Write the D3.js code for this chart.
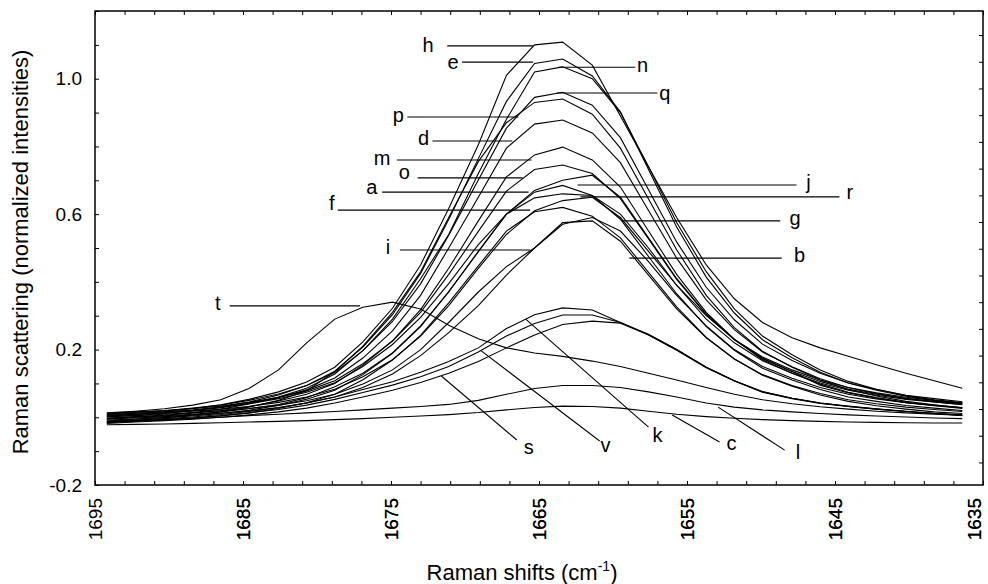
<!DOCTYPE html>
<html>
<head>
<meta charset="utf-8">
<script src="https://cdn.jsdelivr.net/npm/d3@7"></script>
<style>
  body { margin: 0; background: #fff; }
  svg { display: block; font-family: Arial, "Liberation Sans", sans-serif; }
  .tick text { fill: #000; }
</style>
</head>
<body>
<div id="main"></div>
<script>
// Raman shift of every sample point (cm-1), shared by all spectra
const shifts = [1694.2, 1692.3, 1690.3, 1688.4, 1686.5, 1684.6, 1682.6, 1680.7, 1678.8, 1676.9,
  1674.9, 1673.0, 1671.1, 1669.1, 1667.2, 1665.3, 1663.4, 1661.4, 1659.5, 1657.6,
  1655.7, 1653.7, 1651.8, 1649.9, 1647.9, 1646.0, 1644.1, 1642.2, 1640.2, 1638.3, 1636.4];

// normalized intensities, one array per sample
const h = [0.006,0.012,0.017,0.026,0.037,0.053,0.075,0.104,0.148,0.223,0.322,0.45,0.617,0.805,1.01,1.10,1.108,1.04,0.89,0.74,0.59,0.45,0.35,0.28,0.235,0.205,0.18,0.155,0.13,0.108,0.086];
const e = [0.001,0.006,0.011,0.02,0.03,0.045,0.066,0.094,0.136,0.207,0.303,0.425,0.584,0.764,0.933,1.045,1.058,1.008,0.902,0.732,0.562,0.414,0.308,0.229,0.176,0.133,0.101,0.08,0.062,0.05,0.041];
const n = [-0.005,0.001,0.006,0.014,0.024,0.039,0.06,0.086,0.128,0.197,0.29,0.409,0.54,0.72,0.88,1.02,1.035,1.0,0.9,0.74,0.575,0.43,0.32,0.24,0.185,0.14,0.106,0.083,0.064,0.052,0.043];
const q = [0.01,0.014,0.019,0.027,0.036,0.05,0.069,0.094,0.132,0.197,0.283,0.394,0.538,0.701,0.854,0.945,0.96,0.922,0.826,0.672,0.518,0.384,0.288,0.216,0.168,0.13,0.101,0.082,0.065,0.055,0.046];
const p = [-0.011,-0.006,-0.001,0.006,0.016,0.03,0.05,0.078,0.135,0.21,0.31,0.43,0.59,0.755,0.87,0.93,0.94,0.895,0.795,0.645,0.495,0.36,0.265,0.195,0.148,0.11,0.082,0.063,0.047,0.037,0.028];
const d = [0.004,0.008,0.013,0.02,0.028,0.041,0.058,0.081,0.116,0.175,0.255,0.36,0.5,0.65,0.795,0.866,0.878,0.84,0.752,0.611,0.47,0.347,0.259,0.193,0.149,0.114,0.087,0.07,0.055,0.045,0.037];
const m = [-0.002,0.002,0.006,0.012,0.02,0.032,0.048,0.068,0.1,0.154,0.226,0.318,0.44,0.58,0.71,0.775,0.798,0.76,0.68,0.55,0.422,0.31,0.23,0.17,0.13,0.098,0.074,0.058,0.044,0.036,0.028];
const o = [0.012,0.016,0.02,0.026,0.033,0.044,0.059,0.078,0.108,0.158,0.225,0.31,0.422,0.549,0.668,0.732,0.745,0.72,0.646,0.527,0.407,0.303,0.229,0.173,0.135,0.106,0.083,0.068,0.056,0.047,0.041];
const j = [-0.004,0.0,0.004,0.009,0.016,0.025,0.038,0.058,0.09,0.13,0.19,0.27,0.37,0.49,0.6,0.67,0.70,0.715,0.65,0.53,0.41,0.305,0.23,0.175,0.135,0.095,0.072,0.056,0.043,0.034,0.026];
const a = [-0.008,-0.005,-0.001,0.004,0.011,0.021,0.035,0.053,0.08,0.126,0.189,0.268,0.371,0.489,0.6,0.665,0.685,0.655,0.585,0.475,0.365,0.268,0.198,0.145,0.11,0.082,0.06,0.047,0.035,0.027,0.02];
const r = [0.008,0.012,0.016,0.022,0.03,0.04,0.055,0.074,0.102,0.15,0.215,0.295,0.395,0.51,0.6,0.648,0.66,0.655,0.6,0.5,0.39,0.29,0.22,0.167,0.13,0.101,0.08,0.065,0.053,0.045,0.038];
const f = [-0.014,-0.01,-0.007,-0.002,0.004,0.013,0.026,0.043,0.068,0.111,0.169,0.242,0.338,0.447,0.55,0.607,0.62,0.594,0.53,0.428,0.326,0.236,0.172,0.124,0.092,0.066,0.047,0.034,0.024,0.016,0.011];
const g = [0.005,0.009,0.013,0.018,0.024,0.032,0.044,0.06,0.083,0.12,0.17,0.24,0.33,0.44,0.54,0.61,0.64,0.65,0.59,0.49,0.39,0.3,0.23,0.178,0.14,0.11,0.088,0.072,0.059,0.05,0.043];
const i = [0.002,0.005,0.009,0.014,0.019,0.026,0.036,0.049,0.068,0.098,0.14,0.2,0.28,0.37,0.445,0.5,0.57,0.59,0.55,0.46,0.36,0.27,0.2,0.15,0.115,0.088,0.068,0.054,0.043,0.035,0.029];
const b = [-0.005,-0.002,0.002,0.007,0.012,0.019,0.029,0.042,0.06,0.088,0.128,0.182,0.25,0.33,0.42,0.5,0.575,0.58,0.52,0.42,0.32,0.235,0.172,0.126,0.094,0.07,0.052,0.04,0.03,0.023,0.017];
const k = [-0.012,-0.008,-0.004,0.001,0.008,0.017,0.028,0.042,0.06,0.082,0.105,0.133,0.165,0.205,0.262,0.303,0.323,0.317,0.28,0.245,0.2,0.148,0.108,0.075,0.056,0.042,0.033,0.025,0.018,0.012,0.007];
const v = [-0.015,-0.011,-0.007,-0.002,0.005,0.013,0.023,0.036,0.053,0.073,0.095,0.12,0.15,0.193,0.24,0.277,0.302,0.302,0.28,0.243,0.198,0.146,0.107,0.074,0.055,0.041,0.032,0.024,0.017,0.011,0.006];
const s = [-0.018,-0.014,-0.01,-0.006,0.0,0.007,0.016,0.027,0.042,0.06,0.08,0.103,0.13,0.165,0.205,0.243,0.274,0.284,0.278,0.244,0.2,0.148,0.108,0.076,0.056,0.042,0.032,0.024,0.017,0.011,0.005];
const l = [-0.015,-0.012,-0.008,-0.004,0.0,0.005,0.009,0.013,0.017,0.022,0.027,0.032,0.038,0.05,0.068,0.085,0.094,0.094,0.088,0.075,0.06,0.042,0.03,0.022,0.016,0.011,0.007,0.004,0.001,-0.002,-0.004];
const c = [-0.022,-0.021,-0.02,-0.018,-0.016,-0.014,-0.012,-0.01,-0.007,-0.004,0.0,0.004,0.008,0.014,0.022,0.029,0.033,0.032,0.027,0.018,0.009,0.002,-0.003,-0.007,-0.01,-0.012,-0.014,-0.015,-0.016,-0.017,-0.017];
const t = [0.013,0.018,0.025,0.036,0.052,0.085,0.14,0.22,0.29,0.325,0.34,0.32,0.272,0.232,0.205,0.19,0.18,0.166,0.15,0.13,0.11,0.088,0.068,0.052,0.04,0.031,0.024,0.018,0.013,0.009,0.006];

const series = { a, b, c, d, e, f, g, h, i, j, k, l, m, n, o, p, q, r, s, t, v };

// curve labels: text position and leader line, in data units (shift, intensity)
const labels = [
  { id: 'h', tx: 1672.5, ty: 1.099, x1: 1671.2, y1: 1.097, x2: 1665.4, y2: 1.097 },
  { id: 'e', tx: 1670.8, ty: 1.049, x1: 1670.2, y1: 1.049, x2: 1665.4, y2: 1.049 },
  { id: 'n', tx: 1658.0, ty: 1.040, x1: 1663.7, y1: 1.034, x2: 1658.5, y2: 1.034 },
  { id: 'q', tx: 1656.5, ty: 0.958, x1: 1663.8, y1: 0.958, x2: 1657.0, y2: 0.958 },
  { id: 'p', tx: 1674.5, ty: 0.893, x1: 1673.9, y1: 0.887, x2: 1666.4, y2: 0.887 },
  { id: 'd', tx: 1672.8, ty: 0.825, x1: 1672.2, y1: 0.816, x2: 1666.8, y2: 0.816 },
  { id: 'm', tx: 1675.6, ty: 0.766, x1: 1674.6, y1: 0.760, x2: 1665.5, y2: 0.760 },
  { id: 'o', tx: 1674.1, ty: 0.724, x1: 1673.2, y1: 0.707, x2: 1666.1, y2: 0.707 },
  { id: 'a', tx: 1676.3, ty: 0.680, x1: 1675.6, y1: 0.665, x2: 1665.7, y2: 0.665 },
  { id: 'f', tx: 1679.0, ty: 0.633, x1: 1678.6, y1: 0.612, x2: 1665.6, y2: 0.612 },
  { id: 'i', tx: 1675.2, ty: 0.503, x1: 1674.4, y1: 0.494, x2: 1665.6, y2: 0.494 },
  { id: 'j', tx: 1646.8, ty: 0.695, x1: 1662.4, y1: 0.686, x2: 1647.6, y2: 0.686 },
  { id: 'r', tx: 1644.0, ty: 0.665, x1: 1662.2, y1: 0.651, x2: 1644.7, y2: 0.651 },
  { id: 'g', tx: 1647.7, ty: 0.589, x1: 1659.4, y1: 0.580, x2: 1648.7, y2: 0.580 },
  { id: 'b', tx: 1647.4, ty: 0.479, x1: 1658.9, y1: 0.470, x2: 1648.6, y2: 0.470 },
  { id: 't', tx: 1686.7, ty: 0.338, x1: 1685.9, y1: 0.329, x2: 1677.1, y2: 0.329 },
  { id: 's', tx: 1665.7, ty: -0.088, x1: 1666.5, y1: -0.067, x2: 1671.6, y2: 0.122 },
  { id: 'v', tx: 1660.5, ty: -0.082, x1: 1660.9, y1: -0.070, x2: 1668.9, y2: 0.196 },
  { id: 'k', tx: 1657.0, ty: -0.052, x1: 1657.6, y1: -0.029, x2: 1665.9, y2: 0.290 },
  { id: 'c', tx: 1652.0, ty: -0.076, x1: 1652.8, y1: -0.073, x2: 1656.0, y2: 0.007 },
  { id: 'l', tx: 1647.5, ty: -0.103, x1: 1648.4, y1: -0.097, x2: 1652.9, y2: 0.030 }
];

const xLabelTicks = [1695, 1685, 1675, 1665, 1655, 1645, 1635];
const yLabelTicks = [-0.2, 0.2, 0.6, 1.0];

const width = 988, height = 584;
const margin = { top: 11, right: 5, bottom: 99, left: 95 };

const svg = d3.select('#main').append('svg')
  .attr('width', width)
  .attr('height', height);

const xScale = d3.scaleLinear().domain([1695, 1635]).range([margin.left, width - margin.right]);
const yScale = d3.scaleLinear().domain([-0.2, 1.2]).range([height - margin.bottom, margin.top]);

// frame
svg.append('rect')
  .attr('x', margin.left).attr('y', margin.top)
  .attr('width', width - margin.right - margin.left)
  .attr('height', height - margin.bottom - margin.top)
  .attr('fill', 'none').attr('stroke', '#000').attr('stroke-width', 1.5);

const fmtY = dv => yLabelTicks.some(lv => Math.abs(lv - dv) < 1e-6) ? dv.toFixed(1) : '';
const fmtX = dv => xLabelTicks.includes(Math.round(dv)) ? Math.round(dv) : '';

// left axis: ticks every 0.1, labels every 0.4
const yAxis = svg.append('g')
  .attr('transform', `translate(${margin.left},0)`)
  .call(d3.axisLeft(yScale).tickValues(d3.range(-0.2, 1.201, 0.1)).tickSizeInner(-4).tickSizeOuter(0).tickPadding(13).tickFormat(fmtY));
yAxis.select('.domain').remove();
yAxis.selectAll('text').style('font-size', '19px');

// bottom axis: ticks every 2 cm-1, labels every 10
const xAxis = svg.append('g')
  .attr('transform', `translate(0,${height - margin.bottom})`)
  .call(d3.axisBottom(xScale).tickValues(d3.range(1695, 1634.9, -2).concat([1685, 1675, 1665, 1655, 1645, 1635])).tickSizeInner(-4).tickSizeOuter(0).tickFormat(fmtX));
xAxis.select('.domain').remove();
xAxis.selectAll('text')
  .style('font-size', '19px')
  .attr('text-anchor', 'end')
  .attr('transform', 'rotate(-90)')
  .attr('x', -13)
  .attr('y', dv => Math.round(dv) === 1635 ? -9 : 0)   // last label kept inside the page
  .attr('dy', '0.35em');

// top axis, ticks only
const topAxis = svg.append('g')
  .attr('transform', `translate(0,${margin.top})`)
  .call(d3.axisTop(xScale).tickValues(d3.range(1695, 1634.9, -2)).tickSizeInner(-4).tickSizeOuter(0).tickFormat(''));
topAxis.select('.domain').remove();

// right axis, ticks only (its own spacing in the original)
const rightAxis = svg.append('g')
  .attr('transform', `translate(${width - margin.right},0)`)
  .call(d3.axisRight(yScale).tickValues(d3.range(0, 17).map(qv => 1.129 - qv * 0.0789)).tickSizeInner(-4).tickSizeOuter(0).tickFormat(''));
rightAxis.select('.domain').remove();

// spectra
const line = d3.line()
  .x((dv, idx) => xScale(shifts[idx]))
  .y(dv => yScale(dv));

svg.append('g')
  .selectAll('path')
  .data(Object.entries(series))
  .enter()
  .append('path')
  .attr('class', dv => 'line-' + dv[0])
  .attr('fill', 'none')
  .attr('stroke', '#000')
  .attr('stroke-width', 1.1)
  .attr('d', dv => line(dv[1]));

// labels and leader lines
const lab = svg.append('g');
lab.selectAll('line')
  .data(labels)
  .enter()
  .append('line')
  .attr('x1', dv => xScale(dv.x1)).attr('y1', dv => yScale(dv.y1))
  .attr('x2', dv => xScale(dv.x2)).attr('y2', dv => yScale(dv.y2))
  .attr('stroke', '#000')
  .attr('stroke-width', 1.1);
lab.selectAll('text')
  .data(labels)
  .enter()
  .append('text')
  .attr('x', dv => xScale(dv.tx))
  .attr('y', dv => yScale(dv.ty))
  .attr('dy', '0.35em')
  .attr('text-anchor', 'middle')
  .style('font-size', '20px')
  .text(dv => dv.id);

// axis titles
svg.append('text')
  .attr('transform', 'translate(28,252) rotate(-90)')
  .attr('text-anchor', 'middle')
  .style('font-size', '22px')
  .text('Raman scattering (normalized intensities)');

const xt = svg.append('text')
  .attr('x', 522)
  .attr('y', 580)
  .attr('text-anchor', 'middle')
  .style('font-size', '22px');
xt.append('tspan').text('Raman shifts (cm');
xt.append('tspan').attr('dy', -9).style('font-size', '14px').text('-1');
xt.append('tspan').attr('dy', 9).text(')');
</script>
</body>
</html>
